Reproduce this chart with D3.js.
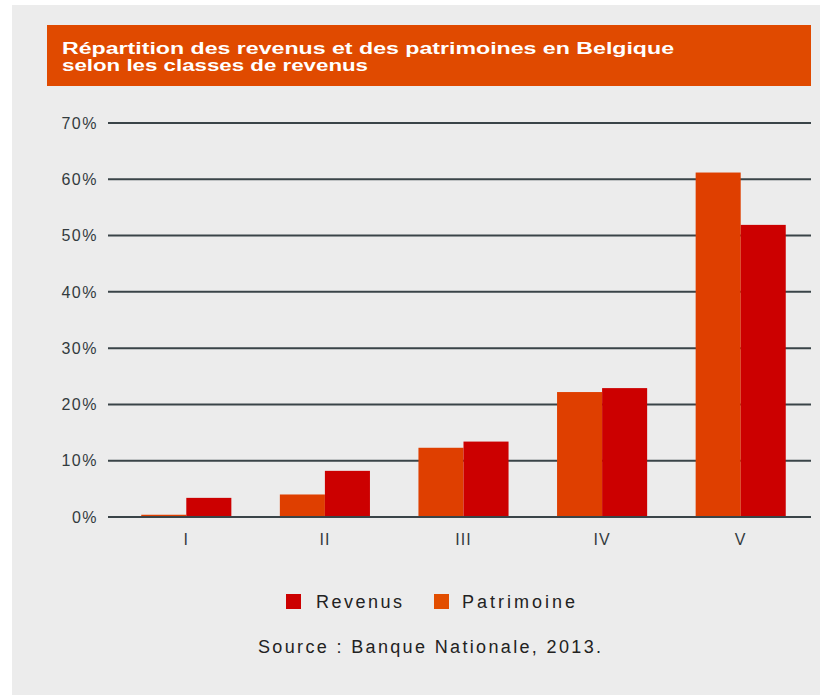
<!DOCTYPE html>
<html>
<head>
<meta charset="utf-8">
<script src="https://cdn.jsdelivr.net/npm/d3@7"></script>
<style>
  body { margin: 0; background: #ffffff; }
  svg { display: block; }
</style>
</head>
<body>
<svg id="chart"></svg>
<script>
// données (en %)
const categories = ["I", "II", "III", "IV", "V"];
const seriesNames = ["Patrimoine", "Revenus"];
const patrimoine = [0.4, 4.0, 12.3, 22.2, 61.2];
const revenus = [3.4, 8.2, 13.4, 22.9, 51.9];
const yTicks = [0, 10, 20, 30, 40, 50, 60, 70];
const titleLines = ["Répartition des revenus et des patrimoines en Belgique", "selon les classes de revenus"];
const legendNames = ["Revenus", "Patrimoine"];
const sourceText = "Source : Banque Nationale, 2013.";

const width = 820, height = 695;
const colors = { Patrimoine: "#df3f00", Revenus: "#cc0000" };
const legendColors = { Patrimoine: "#e24e00", Revenus: "#cc0000" };

const svg = d3.select("#chart")
    .attr("width", width)
    .attr("height", height);

// fond gris
svg.append("rect")
    .attr("x", 12).attr("y", 5)
    .attr("width", width - 12).attr("height", height - 5)
    .attr("fill", "#ececec");

// bandeau du titre
svg.append("rect")
    .attr("x", 47).attr("y", 25)
    .attr("width", 764).attr("height", 61)
    .attr("fill", "#e04a00");

const titleWidths = [612, 306];
svg.selectAll(".title")
    .data(titleLines)
    .enter()
    .append("text")
    .attr("class", "title")
    .attr("x", 62)
    .attr("y", (d, i) => 54 + i * 17)
    .attr("textLength", (d, i) => titleWidths[i])
    .attr("lengthAdjust", "spacingAndGlyphs")
    .attr("fill", "#ffffff")
    .style("font-family", "'Liberation Sans', Arial, sans-serif")
    .style("font-weight", "bold")
    .style("font-size", "16px")
    .text(d => d);

// échelles
const x = d3.scaleBand()
    .domain(categories)
    .range([117, 810])
    .paddingInner(0.35)
    .paddingOuter(0.175);

const xSeries = d3.scaleBand()
    .domain(seriesNames)
    .range([0, x.bandwidth()]);

const y = d3.scaleLinear()
    .domain([0, 70])
    .range([517, 123]);

// lignes de grille + étiquettes
const grid = svg.append("g");
grid.selectAll("line")
    .data(yTicks)
    .enter()
    .append("line")
    .attr("x1", 108).attr("x2", 811)
    .attr("y1", d => y(d)).attr("y2", d => y(d))
    .attr("stroke", "#3a4448")
    .attr("stroke-width", 2);

grid.selectAll("text")
    .data(yTicks)
    .enter()
    .append("text")
    .attr("x", 98)
    .attr("y", d => y(d))
    .attr("dy", "0.36em")
    .attr("text-anchor", "end")
    .attr("fill", "#333b3e")
    .style("font-family", "'Liberation Sans', Arial, sans-serif")
    .style("font-size", "16px")
    .style("letter-spacing", "1.5px")
    .text(d => d + "%");

// barres
const rows = categories.map((c, i) => ({ cat: c, Patrimoine: patrimoine[i], Revenus: revenus[i] }));

const groups = svg.selectAll(".grp")
    .data(rows)
    .enter()
    .append("g")
    .attr("class", "grp")
    .attr("transform", d => `translate(${x(d.cat)},0)`);

groups.selectAll("rect")
    .data(d => seriesNames.map(s => ({ name: s, value: d[s] })))
    .enter()
    .append("rect")
    .attr("x", d => xSeries(d.name))
    .attr("width", xSeries.bandwidth())
    .attr("y", d => y(d.value))
    .attr("height", d => y(0) - y(d.value))
    .attr("fill", d => colors[d.name]);

// redessiner la ligne 0% par-dessus
svg.append("line")
    .attr("x1", 108).attr("x2", 811)
    .attr("y1", y(0)).attr("y2", y(0))
    .attr("stroke", "#3a4448")
    .attr("stroke-width", 2);

// étiquettes des catégories
svg.selectAll(".cat")
    .data(categories)
    .enter()
    .append("text")
    .attr("class", "cat")
    .attr("x", d => x(d) + x.bandwidth() / 2)
    .attr("y", 545)
    .attr("text-anchor", "middle")
    .attr("fill", "#333b3e")
    .style("font-family", "'Liberation Sans', Arial, sans-serif")
    .style("font-size", "16px")
    .style("letter-spacing", "1px")
    .text(d => d);

// légende
const legendX = [286, 434];
const legendTextW = [86, 113];
const legend = svg.selectAll(".legendItem")
    .data(legendNames)
    .enter()
    .append("g")
    .attr("class", "legendItem")
    .attr("transform", (d, i) => `translate(${legendX[i]}, 594)`);

legend.append("rect")
    .attr("width", 15)
    .attr("height", 15)
    .attr("fill", d => legendColors[d]);

legend.append("text")
    .attr("x", (d, i) => i === 0 ? 30 : 28)
    .attr("y", 14)
    .attr("textLength", (d, i) => legendTextW[i])
    .attr("lengthAdjust", "spacing")
    .attr("fill", "#222222")
    .style("font-family", "'Liberation Sans', Arial, sans-serif")
    .style("font-size", "18px")
    .text(d => d);

// source
svg.append("text")
    .attr("x", 258)
    .attr("y", 653)
    .attr("textLength", 343)
    .attr("lengthAdjust", "spacing")
    .attr("fill", "#222222")
    .style("font-family", "'Liberation Sans', Arial, sans-serif")
    .style("font-size", "18px")
    .text(sourceText);
</script>
</body>
</html>
